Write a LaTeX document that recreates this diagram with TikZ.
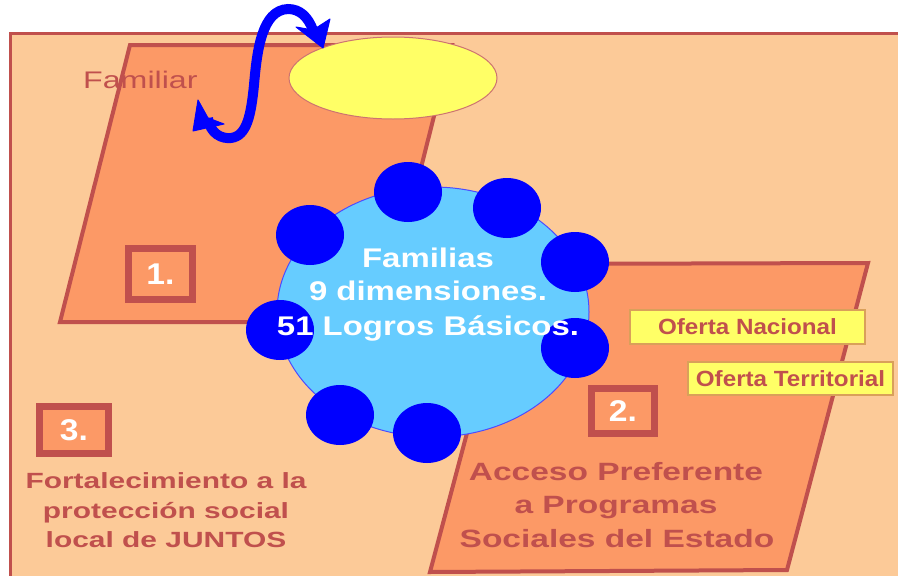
\documentclass[tikz,border=0pt]{standalone}
\usepackage{fontspec}
\setmainfont{Liberation Sans}
\usepackage{graphicx}
\usetikzlibrary{arrows.meta,shapes.geometric}
\definecolor{peach}{HTML}{FCCA98}
\definecolor{salmon}{HTML}{FC9966}
\definecolor{brick}{HTML}{C0504D}
\definecolor{lyellow}{HTML}{FFFF66}
\definecolor{lblue}{HTML}{66CCFF}
\definecolor{ybord}{HTML}{D9A05A}
\newcommand{\sx}[2]{\scalebox{#1}[1]{#2}}
\begin{document}
\begin{tikzpicture}[x=1pt,y=-1pt,
  para/.style={draw=brick, line width=4pt, fill=salmon, line join=miter},
  dot/.style={ellipse, fill=blue, draw=none, minimum width=68pt, minimum height=60pt, inner sep=0pt},
  numbox/.style={draw=brick, line width=7pt, fill=salmon, inner sep=0pt, text=white,
     font=\bfseries\fontsize{30}{32}\selectfont},
  ofbox/.style={draw=ybord, line width=1.5pt, fill=lyellow, inner sep=0pt, text=brick,
     font=\bfseries\fontsize{22}{24}\selectfont},
  coretext/.style={anchor=base, text=white, inner sep=0pt, font=\bfseries\fontsize{27}{30}\selectfont},
  bltext/.style={anchor=base, text=brick, inner sep=0pt, font=\bfseries\fontsize{22}{24}\selectfont},
  brtext/.style={anchor=base, text=brick, inner sep=0pt, font=\bfseries\fontsize{25}{28}\selectfont},
  swirl/.style={draw=blue, line width=10pt},
  swirlhead/.style={fill=blue, draw=blue, line width=1pt, line join=round}
]
\useasboundingbox (0,0) rectangle (898,576);
\fill[white] (0,0) rectangle (898,576);
% outer frame
\draw[brick, line width=3pt, fill=peach] (10,33) rectangle (910,590);
% parallelogram 1
\draw[para] (130,45) -- (452,45) -- (382,322) -- (60,322) -- cycle;
% yellow ellipse
\node[ellipse, draw=brick!80, line width=1pt, fill=lyellow, minimum width=208pt, minimum height=82pt, inner sep=0pt] (fam) at (393,78) {};
% swirl arrow
\coordinate (lownotch) at (208,118);
\coordinate (upnotch) at (313,30);
\path[swirl] (lownotch) .. controls (210,134) and (222,139) .. (231,138)
   .. controls (247,136) and (251,115) .. (254,85)
   .. controls (257,50) and (262,10) .. (288,9)
   .. controls (300,9) and (308,17) .. (upnotch);
\path[swirlhead] (193,131) -- (198,100) -- (lownotch) -- (224,124) -- cycle;
\path[swirlhead] (323,48) -- (296,27) -- (upnotch) -- (330,19) -- cycle;
% Familiar
\node[anchor=base west, text=brick, inner sep=0pt, font=\fontsize{24}{26}\selectfont] (famtxt) at (83,88) {\sx{1.34}{Familiar}};
% parallelogram 2
\draw[para] (512,264) -- (868,263) -- (787,570) -- (430,572) -- cycle;
% core circle
\node[ellipse, draw=blue!70, line width=1pt, fill=lblue, minimum width=312pt, minimum height=250pt, inner sep=0pt] (core) at (433,312) {};
% dots
\node[dot] (d1) at (408,192) {};
\node[dot] (d2) at (507,208) {};
\node[dot] (d3) at (575,262) {};
\node[dot] (d4) at (575,348) {};
\node[dot] (d5) at (427,433) {};
\node[dot] (d6) at (340,415) {};
\node[dot] (d7) at (280,330) {};
\node[dot] (d8) at (310,235) {};
% core text
\node[coretext] (c1) at (428,267) {\sx{1.22}{Familias}};
\node[coretext] (c2) at (428,300) {\sx{1.22}{9 dimensiones.}};
\node[coretext] (c3) at (428,335) {\sx{1.22}{51 Logros Básicos.}};
% oferta boxes
\node[ofbox, minimum width=235pt, minimum height=34pt] (ofn) at (747.5,327) {\sx{1.1}{Oferta Nacional}};
\node[ofbox, minimum width=205pt, minimum height=33pt] (oft) at (790.5,378.5) {\sx{1.1}{Oferta Territorial}};
% number boxes
\node[numbox, minimum width=64pt, minimum height=51pt] (b1) at (160.5,274) {\sx{1.12}{1.}};
\node[numbox, minimum width=63pt, minimum height=45pt] (b2) at (623,411) {\sx{1.12}{2.}};
\node[numbox, minimum width=69pt, minimum height=47pt] (b3) at (74,430) {\sx{1.12}{3.}};
% bottom-left text
\node[bltext] (l1) at (166,488) {\sx{1.36}{Fortalecimiento a la}};
\node[bltext] (l2) at (166,518) {\sx{1.36}{protección social}};
\node[bltext] (l3) at (166,547) {\sx{1.36}{local de JUNTOS}};
% bottom-right text
\node[brtext] (r1) at (616,480) {\sx{1.34}{Acceso Preferente}};
\node[brtext] (r2) at (616,513) {\sx{1.34}{a Programas}};
\node[brtext] (r3) at (617,547) {\sx{1.34}{Sociales del Estado}};
\end{tikzpicture}
\end{document}
